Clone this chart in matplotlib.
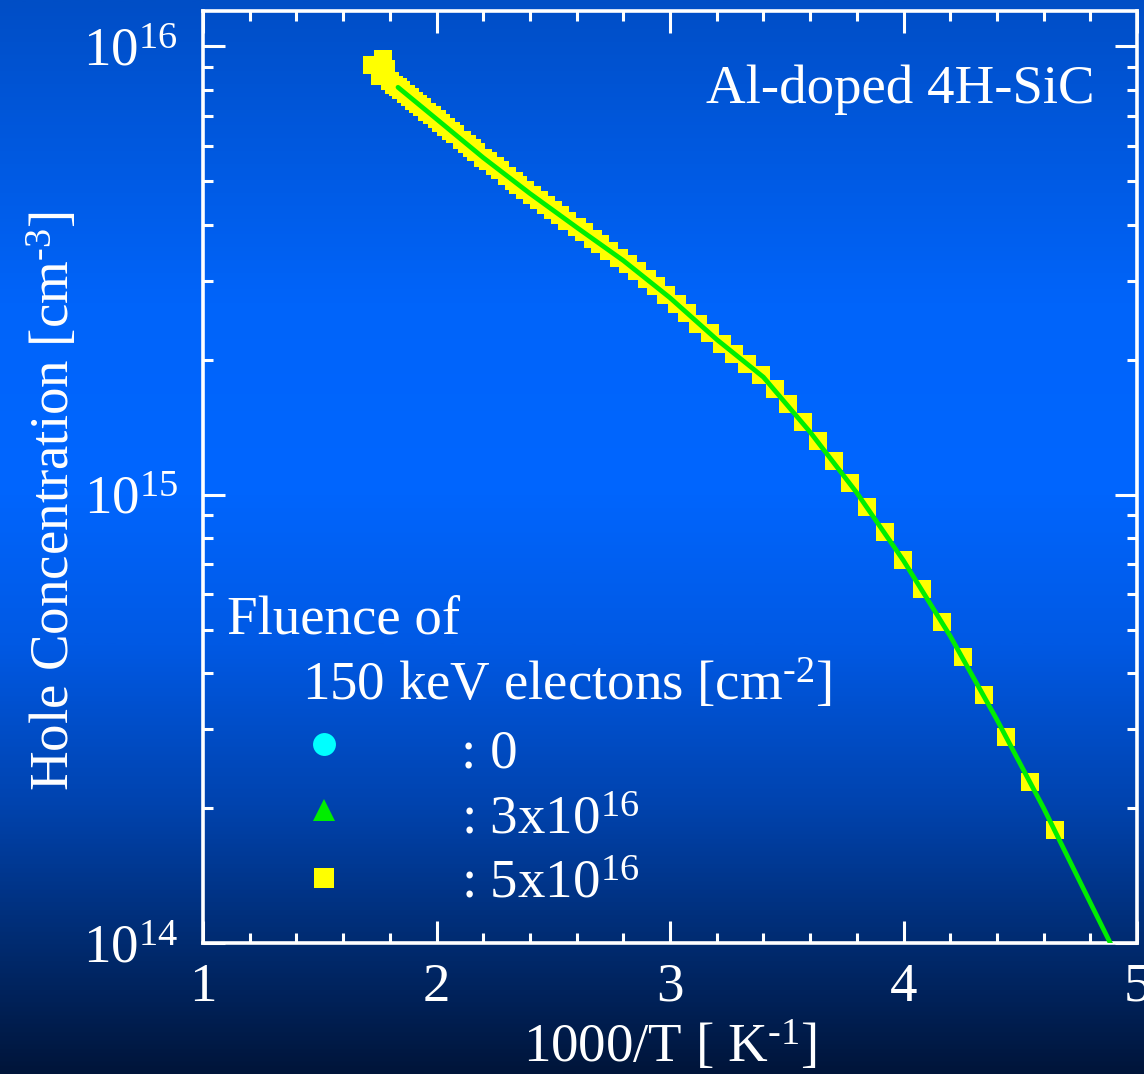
import numpy as np
import matplotlib
matplotlib.use("Agg")
import matplotlib.pyplot as plt
from matplotlib.colors import LinearSegmentedColormap
from matplotlib.ticker import FixedLocator, LogLocator, NullFormatter, MultipleLocator

# ---------------- data ----------------
# 5x10^16 cm^-2 sample, yellow squares (1000/T, hole concentration)
sq_x = [1.724, 1.771, 1.784, 1.758,
        1.80, 1.82, 1.835, 1.85, 1.87, 1.885, 1.905, 1.92, 1.94, 1.96, 1.98,
        2.00, 2.02, 2.04, 2.06, 2.08, 2.11, 2.13, 2.15, 2.17, 2.20, 2.22,
        2.25, 2.27, 2.30, 2.33, 2.35, 2.38, 2.41, 2.44, 2.47, 2.50, 2.53,
        2.56, 2.60, 2.63, 2.67, 2.70, 2.74, 2.78, 2.82, 2.86, 2.90, 2.94,
        2.985, 3.03,
        3.072, 3.122, 3.171, 3.224, 3.276, 3.331, 3.388, 3.448, 3.507,
        3.569, 3.635, 3.701, 3.771, 3.845, 3.919, 3.997, 4.078, 4.164,
        4.253, 4.344, 4.441, 4.542, 4.647]
sq_y = [9.07e15, 9.40e15, 8.93e15, 8.61e15,
        8.39e15, 8.22e15, 8.11e15, 7.99e15, 7.83e15, 7.71e15, 7.56e15, 7.45e15,
        7.31e15, 7.16e15, 7.03e15,
        6.89e15, 6.75e15, 6.62e15, 6.49e15, 6.37e15, 6.18e15, 6.06e15, 5.94e15,
        5.82e15, 5.65e15, 5.55e15,
        5.40e15, 5.30e15, 5.15e15, 5.01e15, 4.92e15, 4.79e15, 4.66e15, 4.54e15,
        4.42e15, 4.31e15, 4.20e15,
        4.09e15, 3.95e15, 3.85e15, 3.72e15, 3.63e15, 3.50e15, 3.38e15, 3.27e15,
        3.15e15, 3.03e15, 2.92e15,
        2.79e15, 2.67e15,
        2.54e15, 2.41e15, 2.29e15, 2.17e15, 2.06e15, 1.96e15, 1.85e15, 1.72e15,
        1.59e15, 1.45e15, 1.32e15, 1.19e15, 1.06e15, 9.39e14, 8.26e14,
        7.17e14, 6.15e14, 5.20e14, 4.35e14, 3.57e14, 2.88e14, 2.29e14, 1.79e14]

# fitted curve (green line)
fit_x = [1.835, 2.00, 2.20, 2.40, 2.60, 2.80, 3.00, 3.20, 3.40, 3.60,
         3.80, 4.00, 4.20, 4.40, 4.60, 4.80, 4.92]
fit_y = [8.11e15, 6.89e15, 5.65e15, 4.70e15, 3.95e15, 3.33e15, 2.75e15,
         2.22e15, 1.83e15, 1.38e15, 1.01e15, 7.13e14, 4.84e14, 3.15e14,
         2.00e14, 1.23e14, 9.2e13]

x_ticks = [1, 2, 3, 4, 5]
x_ticklabels = ["1", "2", "3", "4", "5"]
y_ticks = [1e14, 1e15, 1e16]
y_ticklabels = [r"$\mathregular{10^{14}}$", r"$\mathregular{10^{15}}$", r"$\mathregular{10^{16}}$"]

legend_title1 = "Fluence of"
legend_title2 = r"150 keV electons [cm$^{\text{-2}}$]"
legend_labels = [": 0", r": 3x10$^{\mathregular{16}}$", r": 5x10$^{\mathregular{16}}$"]
legend_markers = ["o", "^", "s"]
legend_colors = ["#00ffff", "#00ee00", "#ffff00"]

x_label = r"1000/T [ K$^{\text{-1}}$]"
y_label = r"Hole Concentration [cm$^{\text{-3}}$]"
sample_label = "Al-doped 4H-SiC"

# ---------------- style ----------------
plt.rcParams['font.family'] = ['Liberation Serif', 'DejaVu Serif']
plt.rcParams['mathtext.fontset'] = 'custom'
plt.rcParams['mathtext.rm'] = 'Liberation Serif'
plt.rcParams['mathtext.it'] = 'Liberation Serif:italic'
plt.rcParams['mathtext.bf'] = 'Liberation Serif:bold'

FS = 39.5
W, H = 1144, 1074
fig = plt.figure(figsize=(W / 100, H / 100), dpi=100)

# background gradient
bg = fig.add_axes([0, 0, 1, 1], zorder=-10)
cmap = LinearSegmentedColormap.from_list("bg", [
    (0.0, "#004ec6"), (0.28, "#0064fa"), (0.45, "#0066ff"), (0.60, "#0059e4"),
    (0.75, "#0043ae"), (0.88, "#002b70"), (1.0, "#00153a")])
grad = np.linspace(0, 1, 512).reshape(-1, 1)
bg.imshow(grad, aspect="auto", cmap=cmap, extent=[0, 1, 0, 1], origin="upper")
bg.set_axis_off()

l, r, b, t = 203 / W, 1137 / W, (H - 943) / H, (H - 11) / H
ax = fig.add_axes([l, b, r - l, t - b])
ax.set_facecolor("none")
ax.set_yscale("log")
ax.set_xlim(1, 5)
ax.set_ylim(1e14, 1.2e16)

ax.plot(sq_x, sq_y, ls="none", marker="s", ms=13.5, mfc="#ffff00", mec="#ffff00",
        mew=0, zorder=3)
ax.plot(fit_x, fit_y, color="#00ee00", lw=3.4, zorder=4, solid_capstyle="round")

# ticks
ax.xaxis.set_major_locator(FixedLocator(x_ticks))
ax.set_xticklabels(x_ticklabels)
ax.xaxis.set_minor_locator(MultipleLocator(0.2))
ax.yaxis.set_major_locator(FixedLocator(y_ticks))
ax.set_yticklabels(y_ticklabels)
ax.yaxis.set_minor_locator(LogLocator(base=10, subs=np.arange(2, 10), numticks=20))
ax.yaxis.set_minor_formatter(NullFormatter())

ax.tick_params(which="both", direction="in", top=True, right=True, colors="white",
               width=2.2, labelsize=FS)
ax.tick_params(which="major", length=15.8)
ax.tick_params(which="minor", length=7.2)
ax.tick_params(axis="x", which="major", pad=14)
ax.tick_params(axis="y", which="major", pad=18)
for s in ax.spines.values():
    s.set_color("white")
    s.set_linewidth(2.6)

ax.set_xlabel(x_label, fontsize=FS, color="white", labelpad=5)
ax.set_ylabel(y_label, fontsize=FS, color="white")
ax.yaxis.set_label_coords(-0.131, 0.474)

# annotations
ax.text(0.955, 0.9013, sample_label, transform=ax.transAxes, ha="right",
        va="baseline", fontsize=FS, color="white")
ax.text(0.0257, 0.3326, legend_title1, transform=ax.transAxes, ha="left",
        va="baseline", fontsize=FS, color="white")
ax.text(0.106, 0.2607, legend_title2, transform=ax.transAxes, ha="left",
        va="baseline", fontsize=FS, color="white")
mk_y = [0.2135, 0.1427, 0.0697]
txt_y = [0.1888, 0.1180, 0.0483]
mk_size = [16.5, 16, 14]
for m, c, lab, my, ty, ms in zip(legend_markers, legend_colors, legend_labels, mk_y, txt_y, mk_size):
    ax.plot([0.1296], [my], transform=ax.transAxes, marker=m, ms=ms, mfc=c, mec=c,
            mew=0, ls="none", clip_on=False, zorder=5)
    ax.text(0.2762, ty, lab, transform=ax.transAxes, ha="left", va="baseline",
            fontsize=FS, color="white")

fig.savefig("out.png", dpi=100)
